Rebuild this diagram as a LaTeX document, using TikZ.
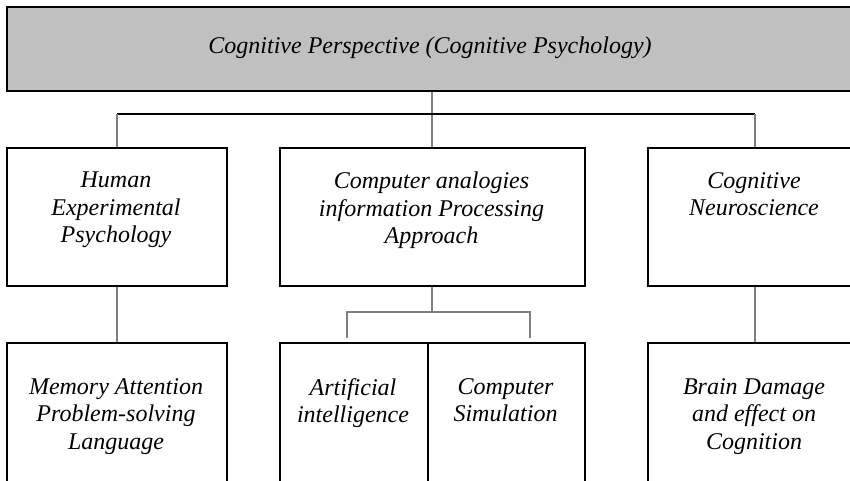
\documentclass[tikz,border=0pt]{standalone}
\usepackage{fontspec}
\setmainfont{Liberation Serif}
\definecolor{topgray}{RGB}{192,192,192}
\begin{document}
\begin{tikzpicture}[x=1pt,y=-1pt,
  box/.style={draw=black,line width=2pt,rectangle,inner sep=0pt,anchor=north west},
  lbl/.style={font=\fontsize{24}{27.5}\selectfont\itshape,align=center,inner sep=0pt,anchor=north},
  conn/.style={draw=black!50,line width=1.6pt},
  hconn/.style={draw=black,line width=1.1pt}]
\useasboundingbox (0,0) rectangle (850,481);
\clip (0,0) rectangle (850,481);
% top
\node[box,fill=topgray,minimum width=870pt,minimum height=84pt] (top) at (6,6) {};
\node[lbl,anchor=center] (ttl) at (430,48) {Cognitive Perspective (Cognitive Psychology)};
% middle row
\node[box,minimum width=220pt,minimum height=138pt] (hep) at (6,147) {};
\node[box,minimum width=305pt,minimum height=138pt] (cap) at (279,147) {};
\node[box,minimum width=214pt,minimum height=138pt] (cns) at (647,147) {};
\node[lbl] (hept) at (116,172) {Human\\Experimental\\Psychology};
\node[lbl] (capt) at (431.5,172) {Computer analogies\\information Processing\\Approach};
\node[lbl] (cnst) at (754,172) {Cognitive\\Neuroscience};
% bottom row
\node[box,minimum width=220pt,minimum height=160pt] (mem) at (6,342) {};
\node[box,minimum width=148pt,minimum height=160pt] (ai) at (279,342) {};
\node[box,minimum width=157pt,minimum height=160pt] (cs) at (427,342) {};
\node[box,minimum width=214pt,minimum height=160pt] (brain) at (647,342) {};
\node[lbl] (memt) at (116,378) {Memory Attention\\Problem-solving\\Language};
\node[lbl] (ait) at (353,378) {Artificial\\intelligence};
\node[lbl] (cst) at (505.5,378) {Computer\\Simulation};
\node[lbl] (braint) at (754,378) {Brain Damage\\and effect on\\Cognition};
% connectors top
\coordinate (bus) at (432,114);
\draw[conn] (top.south -| bus) -- (bus |- cap.north);
\draw[hconn] (hep.north |- bus) -- (cns.north |- bus);
\draw[conn] (hep.north |- bus) -- (hep.north);
\draw[conn] (cns.north |- bus) -- (cns.north);
% connectors bottom
\draw[conn] (hep.south) -- (mem.north);
\draw[conn] (cns.south) -- (brain.north);
\coordinate (sbus) at (432,312);
\coordinate (aiend) at (347,338);
\coordinate (csend) at (530,338);
\draw[conn] (cap.south -| sbus) -- (sbus);
\draw[conn] (aiend) |- (csend |- sbus) -- (csend);
\end{tikzpicture}
\end{document}
